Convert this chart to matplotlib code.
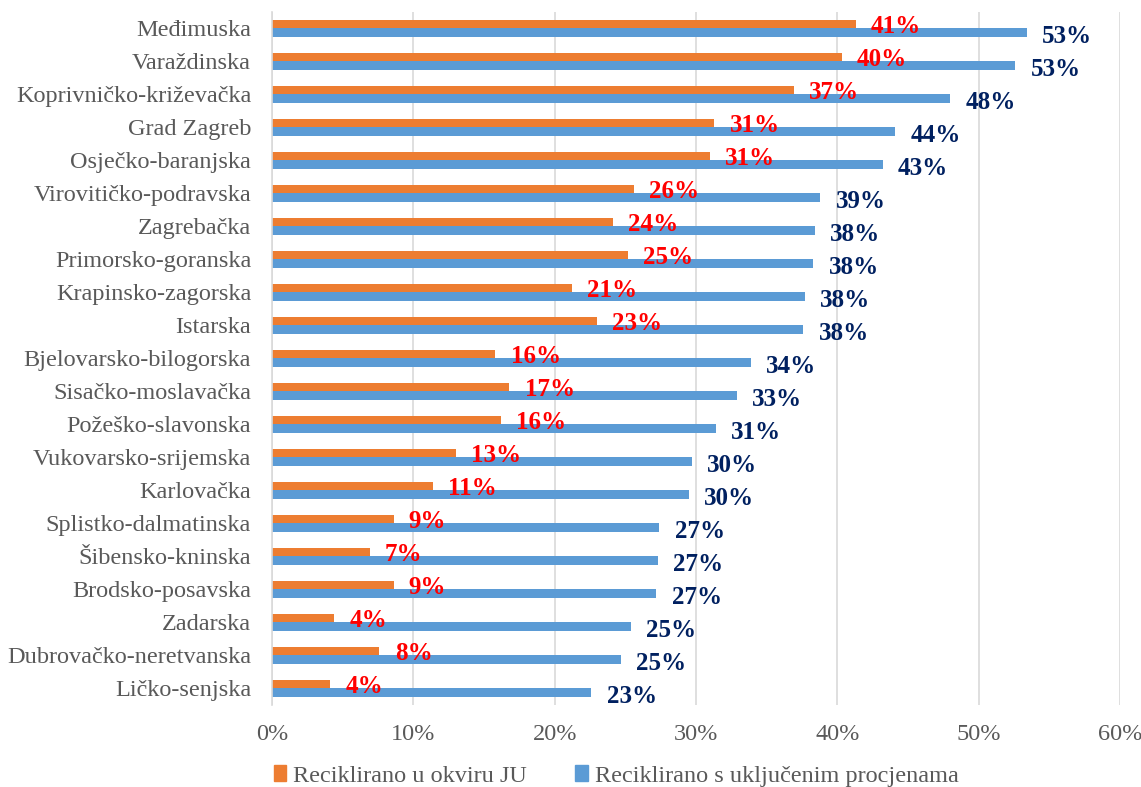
import numpy as np
import matplotlib.pyplot as plt
from matplotlib.patches import Patch

plt.rcParams['font.family'] = ['Liberation Serif', 'DejaVu Serif']

counties = ["Međimuska", "Varaždinska", "Koprivničko-križevačka", "Grad Zagreb",
            "Osječko-baranjska", "Virovitičko-podravska", "Zagrebačka",
            "Primorsko-goranska", "Krapinsko-zagorska", "Istarska",
            "Bjelovarsko-bilogorska", "Sisačko-moslavačka", "Požeško-slavonska",
            "Vukovarsko-srijemska", "Karlovačka", "Splistko-dalmatinska",
            "Šibensko-kninska", "Brodsko-posavska", "Zadarska",
            "Dubrovačko-neretvanska", "Ličko-senjska"]
# shares in %
ju = [41.3, 40.3, 36.9, 31.3, 31.0, 25.6, 24.1, 25.2, 21.2, 23.0, 15.8,
      16.8, 16.2, 13.0, 11.4, 8.6, 6.9, 8.6, 4.4, 7.6, 4.1]
est = [53.4, 52.6, 48.0, 44.1, 43.2, 38.8, 38.4, 38.3, 37.7, 37.6, 33.9,
       32.9, 31.4, 29.7, 29.5, 27.4, 27.3, 27.2, 25.4, 24.7, 22.6]
ticks = [0, 10, 20, 30, 40, 50, 60]

orange = "#ED7D31"
blue = "#5B9BD5"
grey = "#595959"

fig = plt.figure(figsize=(11.41, 7.87), dpi=100)
ax = fig.add_axes([0.2384, 0.1042, 0.7432, 0.8806])

y = np.arange(len(counties))
h = 0.26
ax.barh(y - h/2, ju, height=h, color=orange, label="Reciklirano u okviru JU")
ax.barh(y + h/2, est, height=h, color=blue, label="Reciklirano s uključenim procjenama")

for yi, v in zip(y, ju):
    ax.annotate("%d%%" % round(v), (v, yi - h/2 + 0.08), xytext=(11, 0),
                textcoords="offset points", va="center", ha="left",
                color="#FF0000", fontsize=18, fontweight="bold")
for yi, v in zip(y, est):
    ax.annotate("%d%%" % round(v), (v, yi + h/2 + 0.1), xytext=(11, 0),
                textcoords="offset points", va="center", ha="left",
                color="#002060", fontsize=18, fontweight="bold")

ax.set_xlim(0, 60)
ax.set_ylim(len(counties) - 0.5, -0.5)
ax.set_xticks(ticks)
ax.set_xticklabels(["%d%%" % t for t in ticks])
ax.set_yticks(y)
ax.set_yticklabels(counties)
ax.tick_params(axis="both", length=0, colors=grey, labelsize=17.5)
ax.tick_params(axis="x", pad=14)
ax.tick_params(axis="y", pad=15)
ax.xaxis.grid(True, color="#D9D9D9", linewidth=1.2)
ax.set_axisbelow(True)
for s in ["top", "right", "bottom"]:
    ax.spines[s].set_visible(False)
ax.spines["left"].set_color("#D9D9D9")
ax.spines["left"].set_linewidth(1.2)

handles = [Patch(color=orange), Patch(color=blue)]
fig.legend(handles, ["Reciklirano u okviru JU", "Reciklirano s uključenim procjenama"],
           loc="center", bbox_to_anchor=(0.54, 0.014), ncol=2, frameon=False,
           handlelength=0.5, handleheight=0.6, handletextpad=0.3,
           columnspacing=2.0, labelcolor=grey, fontsize=17.5)

fig.savefig("out.png", dpi=100)
